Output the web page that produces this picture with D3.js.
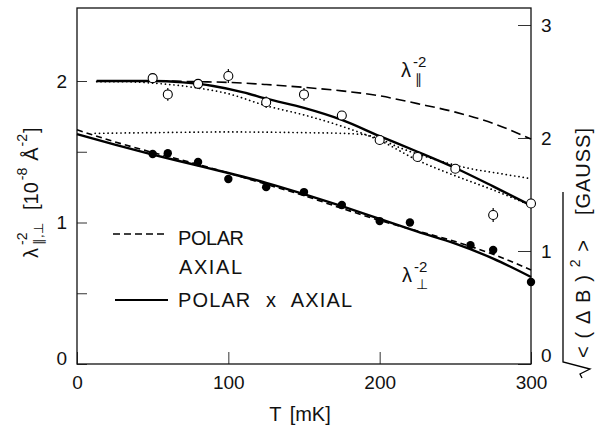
<!DOCTYPE html>
<html><head><meta charset="utf-8">
<script src="https://cdn.jsdelivr.net/npm/d3@7"></script>
<style>
html,body{margin:0;padding:0;background:#fff;}
svg{display:block;font-family:"Liberation Sans",Arial,Helvetica,sans-serif;}
</style></head><body>
<svg id="chart" width="597" height="426"></svg>
<script>
// ---- data ----
const xTicks = [0, 100, 200, 300];
const yLeftTicks = [0.5, 1, 1.5, 2];
const yLeftLabels = [0, 1, 2];
const yRightTicks = [0, 1, 2, 3];

// open circles: lambda_par^-2 data
const tOpen = [50, 60, 80, 100, 125, 150, 175, 200, 225, 250, 275, 300];
const vOpen = [2.02, 1.905, 1.98, 2.035, 1.85, 1.905, 1.756, 1.583, 1.463, 1.38, 1.053, 1.134];
const eOpen = [0.02, 0.045, 0.025, 0.05, 0.04, 0.045, 0, 0, 0, 0.025, 0.05, 0.02];

// filled circles: lambda_perp^-2 data
const tFilled = [50, 60, 80, 100, 125, 150, 175, 200, 220, 260, 275, 300];
const vFilled = [1.484, 1.49, 1.428, 1.307, 1.25, 1.215, 1.124, 1.01, 1.0, 0.84, 0.806, 0.58];

// model curves
const tParSolid = [13, 30, 50, 70, 90, 110, 125, 150, 175, 200, 225, 250, 275, 300];
const vParSolid = [2.0, 2.0, 2.0, 1.99, 1.965, 1.92, 1.875, 1.81, 1.725, 1.61, 1.5, 1.385, 1.255, 1.12];

const tParDashed = [13, 50, 80, 100, 125, 150, 175, 200, 225, 250, 275, 300];
const vParDashed = [2.0, 2.0, 1.995, 1.99, 1.975, 1.955, 1.93, 1.895, 1.84, 1.78, 1.7, 1.59];

const tParDotted = [13, 30, 50, 80, 100, 125, 150, 175, 200, 225, 250, 275, 300];
const vParDotted = [1.995, 1.995, 1.985, 1.95, 1.91, 1.825, 1.76, 1.68, 1.58, 1.44, 1.33, 1.23, 1.12];

const tPerpDotted = [12, 50, 100, 150, 175, 190, 200, 213, 235, 258, 280, 300];
const vPerpDotted = [1.63, 1.635, 1.64, 1.635, 1.63, 1.62, 1.59, 1.53, 1.45, 1.385, 1.345, 1.31];

const tPerpSolid = [0, 25, 50, 75, 100, 125, 150, 175, 200, 225, 250, 275, 300];
const vPerpSolid = [1.625, 1.55, 1.48, 1.415, 1.35, 1.28, 1.2, 1.115, 1.025, 0.935, 0.85, 0.745, 0.615];

const tPerpDashed = [0, 25, 50, 75, 100, 125, 150, 175, 200, 225, 250, 275, 300];
const vPerpDashed = [1.655, 1.57, 1.495, 1.425, 1.35, 1.27, 1.19, 1.1, 1.015, 0.94, 0.865, 0.775, 0.665];

const legendItems = ["POLAR", "AXIAL", "POLAR x AXIAL"];
const xTitle = "T [mK]";

// ---- layout ----
const svg = d3.select("#chart");
const L = 77, R = 531, T = 8, B = 364;
const x = d3.scaleLinear().domain([0, 300]).range([L, R]);
const yL = d3.scaleLinear().domain([0, (B - T) / 141.5]).range([B, T]);
const yR = d3.scaleLinear().domain([0, (B - T) / 113]).range([B, T]);

svg.append("rect").attr("width", 597).attr("height", 426).attr("fill", "#fff");

// axes
const fs = 19;
const gx = svg.append("g").attr("transform", `translate(0,${B})`)
  .call(d3.axisBottom(x).tickValues(xTicks).tickSizeInner(-12).tickSizeOuter(0).tickPadding(12).tickFormat(d3.format("d")));
const gl = svg.append("g").attr("transform", `translate(${L},0)`)
  .call(d3.axisLeft(yL).tickValues([0].concat(yLeftTicks)).tickSizeInner(-10).tickSizeOuter(0).tickPadding(10)
    .tickFormat(d => yLeftLabels.includes(d) ? d3.format("d")(d) : ""));
const gr = svg.append("g").attr("transform", `translate(${R},0)`)
  .call(d3.axisRight(yR).tickValues(yRightTicks).tickSizeInner(-13).tickSizeOuter(0).tickPadding(10).tickFormat(d3.format("d")));
[gx, gl, gr].forEach(g => {
  g.select(".domain").remove();
  g.selectAll("text").attr("font-size", fs).attr("font-family", "Liberation Sans, Arial, sans-serif").attr("fill", "#111");
  g.selectAll("line").attr("stroke", "#333").attr("stroke-width", 1);
});
gl.selectAll(".tick").filter(d => d === 0).select("text").attr("y", -6);
gr.selectAll(".tick").filter(d => d === 0).select("text").attr("y", -9);

svg.append("rect").attr("x", L).attr("y", T).attr("width", R - L).attr("height", B - T)
  .attr("fill", "none").attr("stroke", "#111").attr("stroke-width", 1.3);

// x title
svg.append("text").attr("x", 300).attr("y", 421).attr("text-anchor", "middle")
  .attr("font-size", 20).attr("fill", "#111").attr("word-spacing", 3).text(xTitle);

// curves
const line = d3.line().x(d => x(d[0])).y(d => yL(d[1])).curve(d3.curveMonotoneX);
function curve(ts, vs, w, dash) {
  svg.append("path").datum(ts.map((t, i) => [t, vs[i]]))
    .attr("d", line).attr("fill", "none").attr("stroke", "#000")
    .attr("stroke-width", w).attr("stroke-dasharray", dash || null)
    .attr("stroke-linecap", dash && dash.startsWith("0.1") ? "round" : "butt");
}
curve(tParDotted, vParDotted, 1.7, "0.1,4.2");
curve(tPerpDotted, vPerpDotted, 1.7, "0.1,4.2");
curve(tParDashed, vParDashed, 1.6, "10,5");
curve(tPerpDashed, vPerpDashed, 1.6, "6,4");
curve(tParSolid, vParSolid, 2.4);
curve(tPerpSolid, vPerpSolid, 2.4);

// error bars + open circles
const openData = tOpen.map((t, i) => ({ t, v: vOpen[i], e: eOpen[i] }));
svg.append("g").selectAll("line").data(openData.filter(d => d.e > 0)).join("line")
  .attr("x1", d => x(d.t)).attr("x2", d => x(d.t))
  .attr("y1", d => yL(d.v + d.e)).attr("y2", d => yL(d.v - d.e))
  .attr("stroke", "#000").attr("stroke-width", 1.2);
svg.append("g").selectAll("circle").data(openData).join("circle")
  .attr("cx", d => x(d.t)).attr("cy", d => yL(d.v)).attr("r", 4.5)
  .attr("fill", "#fff").attr("stroke", "#000").attr("stroke-width", 1.1);
svg.append("g").selectAll("circle").data(tFilled.map((t, i) => ({ t, v: vFilled[i] }))).join("circle")
  .attr("cx", d => x(d.t)).attr("cy", d => yL(d.v)).attr("r", 4.2).attr("fill", "#000");

// legend
const lg = svg.append("g").attr("font-size", 20).attr("fill", "#111");
lg.append("line").attr("x1", 113).attr("x2", 168).attr("y1", 234).attr("y2", 234)
  .attr("stroke", "#000").attr("stroke-width", 1.6).attr("stroke-dasharray", "7,4");
lg.append("text").attr("x", 178).attr("y", 245).attr("textLength", 66).attr("lengthAdjust", "spacing").text(legendItems[0]);
lg.append("text").attr("x", 179).attr("y", 274).attr("textLength", 63).attr("lengthAdjust", "spacing").text(legendItems[1]);
lg.append("line").attr("x1", 115).attr("x2", 168).attr("y1", 300).attr("y2", 300)
  .attr("stroke", "#000").attr("stroke-width", 2.2);
lg.append("text").attr("x", 178).attr("y", 307).attr("textLength", 174).attr("lengthAdjust", "spacing").attr("word-spacing", 8).text(legendItems[2]);

// curve annotations
function lam(xp, yp, sub) {
  const t = svg.append("text").attr("font-size", 20).attr("fill", "#111");
  t.append("tspan").attr("x", xp).attr("y", yp).text("λ");
  t.append("tspan").attr("x", xp + 12).attr("y", yp - 10).attr("font-size", 15).text("-2");
  t.append("tspan").attr("x", xp + 14).attr("y", yp + 7).attr("font-size", 14).text(sub);
}
lam(401, 77, "∥");
lam(402, 282, "⊥");

// left axis title
const lt = svg.append("g").attr("transform", "translate(38,258) rotate(-90)")
  .append("text").attr("font-size", 20).attr("fill", "#111");
lt.append("tspan").attr("x", 0).attr("y", 0).text("λ");
lt.append("tspan").attr("x", 13).attr("y", -11).attr("font-size", 14).text("-2");
lt.append("tspan").attr("x", 13).attr("y", 5).attr("font-size", 13).text("∥,⊥");
lt.append("tspan").attr("x", 48).attr("y", 0).text("[10");
lt.append("tspan").attr("dx", 2).attr("y", -11).attr("font-size", 14).text("-8");
lt.append("tspan").attr("dx", 7).attr("y", 0).text("Å");
lt.append("tspan").attr("dx", 1).attr("y", -11).attr("font-size", 14).text("-2");
lt.append("tspan").attr("dx", 1).attr("y", 0).text("]");

// right axis title
const rg = svg.append("g").attr("transform", "translate(590,378) rotate(-90)");
rg.append("path").attr("d", "M0,-8 L4,-10 L9,0 L16,-27 L186,-27")
  .attr("fill", "none").attr("stroke", "#000").attr("stroke-width", 1.3);
const rt = rg.append("text").attr("font-size", 20).attr("fill", "#111")
  .attr("x", 20).attr("y", 0).attr("textLength", 118).attr("lengthAdjust", "spacing");
rt.append("tspan").text("<(ΔB)");
rt.append("tspan").attr("dy", -10).attr("font-size", 14).text("2");
rt.append("tspan").attr("dy", 10).text(">");
rg.append("text").attr("font-size", 20).attr("fill", "#111").attr("x", 163).attr("y", 0)
  .attr("textLength", 87).attr("lengthAdjust", "spacing").text("[GAUSS]");
</script></body></html>
